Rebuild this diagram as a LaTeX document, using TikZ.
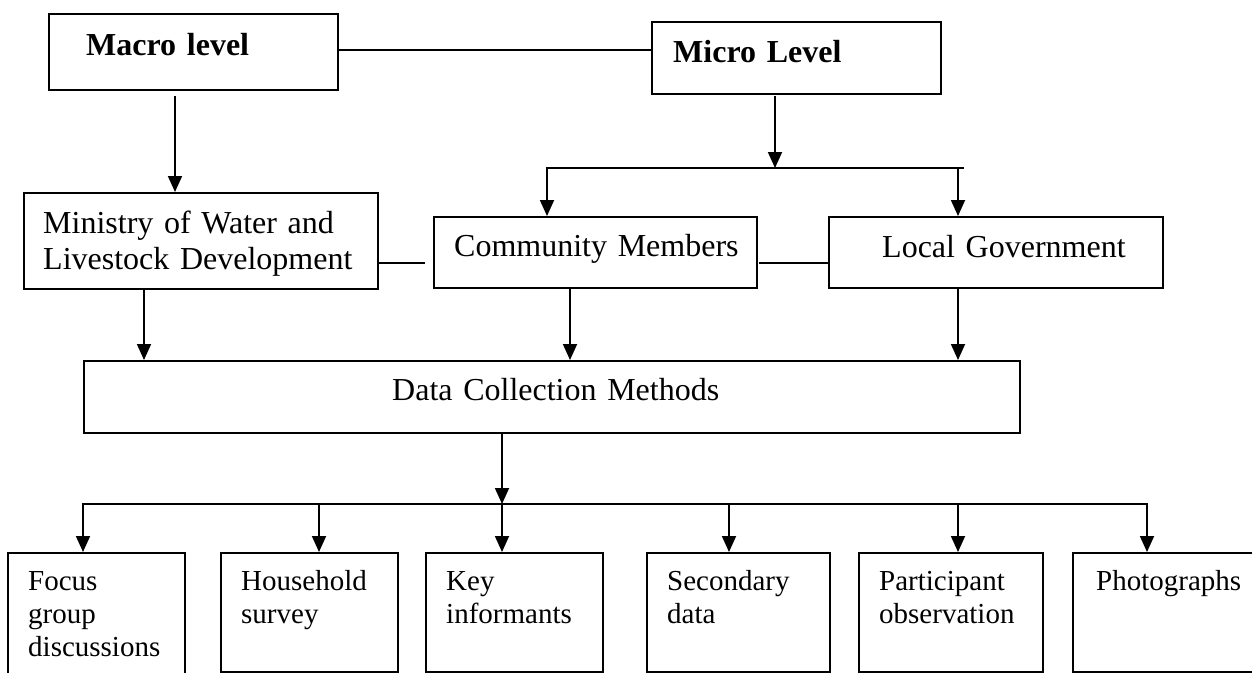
\documentclass[tikz,border=0pt]{standalone}
\usepackage{fontspec}
\setmainfont{Liberation Serif}
\usetikzlibrary{arrows.meta}

\begin{document}
\begin{tikzpicture}[x=1pt,y=-1pt,
  box/.style={draw, line width=1.8pt, inner sep=0pt, anchor=north west},
  txt/.style={anchor=base west, inner sep=0pt, align=left, text width=#1,
              font=\fontsize{32}{36}\selectfont},
  txt/.default=400pt,
  link/.style={line width=1.8pt},
  arr/.style={line width=1.8pt, -{Triangle[length=16pt,width=14pt]}},
]
\useasboundingbox (0,0) rectangle (1252,672);
\clip (0,0) rectangle (1252,672);

% ---- level boxes ----
\node[box, minimum width=289pt, minimum height=76pt] (macro) at (48,13) {};
\node[box, minimum width=289pt, minimum height=72pt] (micro) at (651,21) {};
\node[txt] (macro-t) at (86,55) {\bfseries Macro level};
\node[txt] (micro-t) at (673,62) {\bfseries Micro Level};

% ---- actors ----
\node[box, minimum width=354pt, minimum height=96pt] (ministry) at (23,192) {};
\node[box, minimum width=323pt, minimum height=71pt] (community) at (433,216) {};
\node[box, minimum width=334pt, minimum height=71pt] (localgov) at (828,216) {};
\node[txt] (ministry-t) at (43,233) {Ministry of Water and\\Livestock Development};
\node[txt] (community-t) at (454,256) {Community Members};
\node[txt] (localgov-t) at (882,257) {Local Government};

% ---- methods ----
\node[box, minimum width=936pt, minimum height=72pt] (data) at (83,360) {};
\node[txt] (data-t) at (392,400) {Data Collection Methods};

\tikzset{meth/.style={box, minimum height=119pt}}
\node[meth, minimum width=177pt, minimum height=135pt] (focus) at (7,552) {};
\node[meth, minimum width=177pt] (household) at (220,552) {};
\node[meth, minimum width=177pt] (key) at (425,552) {};
\node[meth, minimum width=183pt] (secondary) at (646,552) {};
\node[meth, minimum width=184pt] (participant) at (858,552) {};
\node[meth, minimum width=190pt] (photos) at (1072,552) {};

\tikzset{mtxt/.style={txt=170pt, font=\fontsize{29}{33}\selectfont}}
\node[mtxt] (focus-t) at (28,590) {Focus\\group\\discussions};
\node[mtxt] (household-t) at (241,590) {Household\\survey};
\node[mtxt] (key-t) at (446,590) {Key\\informants};
\node[mtxt] (secondary-t) at (667,590) {Secondary\\data};
\node[mtxt] (participant-t) at (879,590) {Participant\\observation};
\node[mtxt] (photos-t) at (1096,590) {Photographs};

% ---- connectors: top ----
\coordinate (level-link) at (0,50);
\draw[link] (macro.east |- level-link) -- (micro.west |- level-link);

\coordinate (macro-out) at (175,96);
\draw[arr] (macro-out) -- (macro-out |- ministry.north);

\coordinate (micro-out) at (775,96);
\coordinate (split-l) at (547,168);
\coordinate (split-r) at (964,168);
\coordinate (split-lg) at (958,168);
\draw[arr] (micro-out) -- (micro-out |- split-l);
\draw[arr] (split-r) -- (split-l) -- (split-l |- community.north);
\draw[arr] (split-lg) -- (split-lg |- localgov.north);

% ---- side links between actors ----
\coordinate (side-a) at (425,263);
\coordinate (side-b) at (759,263);
\draw[link] (ministry.east |- side-a) -- (side-a);
\draw[link] (side-b) -- (localgov.west |- side-b);

% ---- actors to data collection ----
\coordinate (down-m) at (144,0);
\coordinate (down-c) at (570,0);
\coordinate (down-l) at (958,0);
\draw[arr] (ministry.south -| down-m) -- (data.north -| down-m);
\draw[arr] (community.south -| down-c) -- (data.north -| down-c);
\draw[arr] (localgov.south -| down-l) -- (data.north -| down-l);

% ---- data collection to methods ----
\coordinate (fan) at (502,504);
\draw[arr] (data.south -| fan) -- (fan);
\draw[arr] (fan) -- (83,504) -- (83,504 |- focus.north);
\draw[arr] (fan) -- (1147,504) -- (1147,504 |- photos.north);
\foreach \b/\x in {household/319, key/502, secondary/729, participant/958}
  \draw[arr] (\x,504) -- (\x,504 |- \b.north);
\end{tikzpicture}
\end{document}
